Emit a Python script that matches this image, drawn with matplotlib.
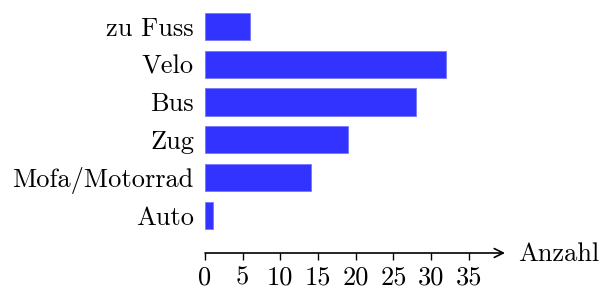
import matplotlib
matplotlib.use('Agg')
import matplotlib.pyplot as plt

categories = ['Auto', 'Mofa/Motorrad', 'Zug', 'Bus', 'Velo', 'zu Fuss']
counts = [1, 14, 19, 28, 32, 6]
xticks = [0, 5, 10, 15, 20, 25, 30, 35]

plt.rcParams['font.family'] = 'cmr10'
plt.rcParams['mathtext.fontset'] = 'cm'
plt.rcParams['axes.unicode_minus'] = False

W, H = 602, 291
fs = 19
fig = plt.figure(figsize=(W / 100, H / 100), dpi=100)
ax = fig.add_axes([205 / W, 1 - 253 / H, 300 / W, (253 - 7.6) / H])

ypos = list(range(len(categories)))
ax.barh(ypos, counts, height=0.72, color='#3333ff', edgecolor='#7777ff', linewidth=0.6)
ax.set_yticks(ypos)
ax.set_yticklabels(categories, fontsize=fs)
ax.set_xticks(xticks)
ax.set_xticklabels([str(x) for x in xticks], fontsize=fs)
ax.set_xlim(0, 39.8)
ax.set_ylim(-1.0, 5.5)

for s in ['top', 'right', 'left', 'bottom']:
    ax.spines[s].set_visible(False)
ax.tick_params(axis='y', length=0, pad=8)
ax.tick_params(axis='x', direction='out', length=5, width=1.0, pad=4)

# x axis with arrow
ax.annotate('', xy=(1.0, 0), xytext=(0, 0), xycoords='axes fraction',
            arrowprops=dict(arrowstyle='->', lw=1.2, color='black',
                            shrinkA=0, shrinkB=0, mutation_scale=16))
ax.text(1.045, -0.005, 'Anzahl', transform=ax.transAxes, fontsize=fs,
        ha='left', va='center')

fig.savefig('out.png', dpi=100)
